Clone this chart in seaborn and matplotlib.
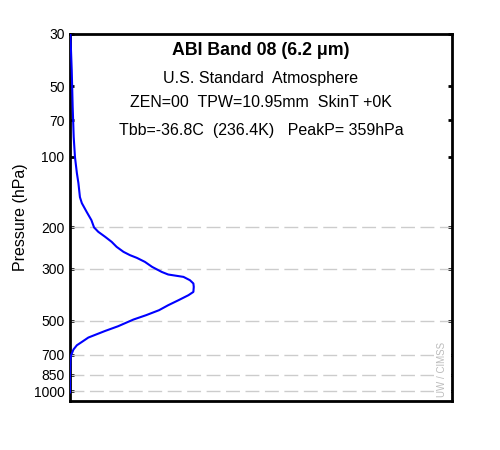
import numpy as np
import pandas as pd
import matplotlib
matplotlib.use("Agg")
import matplotlib.pyplot as plt
import seaborn as sns

# Weighting function (normalized, fraction of plot width) vs pressure (hPa)
pressure = [30, 42.7, 61.4, 82.5, 100.4, 117.5, 129.6, 148.8, 157.8, 172.4,
            186.4, 200.3, 209.1, 219.6, 230.7, 242.3, 254.5, 262.9, 270.0,
            280.8, 295.0, 309.9, 317.9, 325.4, 336.2, 347.2, 359.0, 377.1,
            389.5, 409.1, 429.7, 451.3, 474.0, 494.6, 528.1, 553.1, 571.3,
            590.2, 616.2, 636.5, 663.9, 702.2, 737.6, 850.0, 1013.0]
weight = [0.001, 0.0045, 0.007, 0.0097, 0.013, 0.018, 0.022, 0.026, 0.031,
          0.044, 0.056, 0.063, 0.074, 0.092, 0.109, 0.122, 0.140, 0.157,
          0.175, 0.196, 0.215, 0.240, 0.257, 0.297, 0.314, 0.323, 0.324,
          0.323, 0.310, 0.284, 0.257, 0.233, 0.199, 0.166, 0.126, 0.092,
          0.070, 0.048, 0.031, 0.018, 0.009, 0.003, 0.001, 0.0, 0.0]

ytick_vals = [30, 50, 70, 100, 200, 300, 500, 700, 850, 1000]
ytick_labels = ["30", "50", "70", "100", "200", "300", "500", "700", "850", "1000"]
grid_levels = [200, 300, 500, 700, 850, 1000]

title = "ABI Band 08 (6.2 \u03bcm)"
info_lines = ["U.S. Standard  Atmosphere",
              "ZEN=00  TPW=10.95mm  SkinT +0K",
              "Tbb=-36.8C  (236.4K)   PeakP= 359hPa"]
ylabel = "Pressure (hPa)"
watermark = "UW / CIMSS"

sns.set_style("white")
plt.rcParams['font.family'] = ['Liberation Sans', 'DejaVu Sans']
plt.rcParams.update({"text.color": "black", "axes.labelcolor": "black",
                     "xtick.color": "black", "ytick.color": "black"})

df = pd.DataFrame({"weight": weight, "pressure": pressure})

fig = plt.figure(figsize=(5, 4.5), dpi=100)
ax = fig.add_axes([0.14, 0.1089, 0.764, 0.8156])

for lev in grid_levels:
    ax.axhline(lev, color="#cccccc", lw=1.0, dashes=(10, 4), zorder=1)

sns.lineplot(data=df, x="weight", y="pressure", sort=False, estimator=None,
             color="#0000ff", lw=1.5, ax=ax, zorder=3)

ax.set_yscale("log")
ax.set_ylim(1100, 30)
ax.set_xlim(0, 1)
ax.yaxis.set_minor_locator(matplotlib.ticker.NullLocator())
ax.set_yticks(ytick_vals)
ax.set_yticklabels(ytick_labels)
ax.set_xticks([])
ax.set_xlabel("")
ax.set_ylabel(ylabel, fontsize=11.5)
ax.yaxis.set_label_coords(-0.11, 0.502)
ax.tick_params(axis="y", which="both", direction="in", left=True, right=True,
               length=3, width=2, labelsize=10, pad=4, color="black",
               labelcolor="black")

for s in ax.spines.values():
    s.set_color("black")
    s.set_linewidth(2)

ax.text(0.5, 0.956, title, transform=ax.transAxes, ha="center", va="center",
        fontsize=12.8, fontweight="bold", color="black")
for yy, line in zip([0.880, 0.812, 0.738], info_lines):
    ax.text(0.5, yy, line, transform=ax.transAxes, ha="center", va="center",
            fontsize=11.5, color="black")

ax.text(0.975, 0.012, watermark, transform=ax.transAxes, ha="center", va="bottom",
        rotation=90, fontsize=7, color="#bbbbbb",
        bbox=dict(facecolor="white", edgecolor="none", pad=2.5), zorder=5)

fig.savefig("out.png", dpi=100)
